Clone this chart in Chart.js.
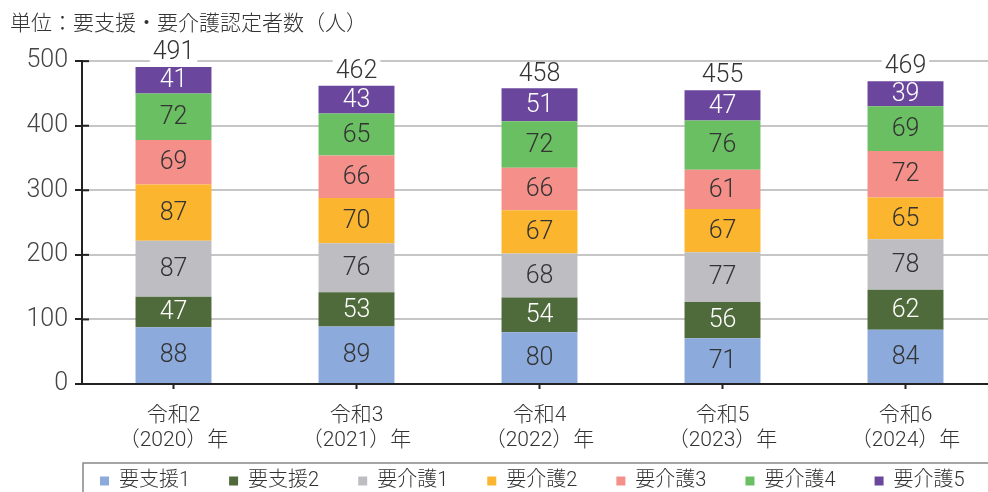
<!DOCTYPE html>
<html>
<head>
<meta charset="utf-8">
<script src="https://cdn.jsdelivr.net/npm/chart.js@4"></script>
<style>
  html, body { margin: 0; padding: 0; background: #fff; overflow: hidden; }
  #wrap { width: 1000px; height: 501px; }
</style>
</head>
<body>
<div id="wrap"><canvas id="chart" width="1000" height="501"></canvas></div>
<script>
// 年度ラベル (2行)
const years = [
  ['令和2', '（2020）年'],
  ['令和3', '（2021）年'],
  ['令和4', '（2022）年'],
  ['令和5', '（2023）年'],
  ['令和6', '（2024）年']
];
const seriesNames = ['要支援1', '要支援2', '要介護1', '要介護2', '要介護3', '要介護4', '要介護5'];

const shien1 = [88, 89, 80, 71, 84];
const shien2 = [47, 53, 54, 56, 62];
const kaigo1 = [87, 76, 68, 77, 78];
const kaigo2 = [87, 70, 67, 67, 65];
const kaigo3 = [69, 66, 66, 61, 72];
const kaigo4 = [72, 65, 72, 76, 69];
const kaigo5 = [41, 43, 51, 47, 39];
const yTicks = [0, 100, 200, 300, 400, 500];

const seriesValues = [shien1, shien2, kaigo1, kaigo2, kaigo3, kaigo4, kaigo5];
const seriesColors = ['#8caadb', '#4f6b3b', '#bebec2', '#fcb52e', '#f48f89', '#6abf63', '#6a479c'];
const whiteText = [1, 6]; // dark segments get white numbers

const totals = years.map((y, i) => seriesValues.reduce((s, arr) => s + arr[i], 0));

const numFont = '300 25px Roboto, "Noto Sans CJK JP"';

const valueLabels = {
  id: 'valueLabels',
  afterDatasetsDraw(chart) {
    const ctx = chart.ctx;
    const yScale = chart.scales.y;
    ctx.save();
    ctx.font = numFont;
    ctx.textAlign = 'center';
    ctx.textBaseline = 'middle';
    chart.data.datasets.forEach((ds, di) => {
      const meta = chart.getDatasetMeta(di);
      meta.data.forEach((bar, i) => {
        ctx.fillStyle = whiteText.includes(di) ? '#fff' : '#333';
        ctx.fillText(ds.data[i], bar.x, (bar.y + bar.base) / 2 + 1);
      });
    });
    // 合計 (白地で目盛線を隠す)
    const meta0 = chart.getDatasetMeta(0);
    totals.forEach((t, i) => {
      const x = meta0.data[i].x;
      const y = yScale.getPixelForValue(t) - 15;
      const w = ctx.measureText(t).width + 6;
      ctx.fillStyle = '#fff';
      ctx.fillRect(x - w / 2, y - 11, w, 22);
      ctx.fillStyle = '#333';
      ctx.fillText(t, x, y + 1);
    });
    ctx.restore();
  }
};

const axisExtras = {
  id: 'axisExtras',
  afterLayout(chart) {
    chart.titleBlock.left += 10;
    chart.titleBlock.right += 10;
    chart.legend.left += 61;
    chart.legend.right += 100;
    // let the 2-line x labels run past the fixed axis box
    chart.scales.x.bottom = chart.height;
  },
  afterDraw(chart) {
    const { ctx, chartArea } = chart;
    const y = chart.scales.y;
    ctx.save();
    ctx.strokeStyle = '#222';
    ctx.lineWidth = 2;
    y.ticks.forEach((t, i) => {
      const py = y.getPixelForTick(i);
      ctx.beginPath();
      ctx.moveTo(chartArea.left, py);
      ctx.lineTo(chartArea.left + 7, py);
      ctx.stroke();
    });
    // 凡例の枠
    const lg = chart.legend;
    ctx.strokeStyle = '#888';
    ctx.lineWidth = 1.5;
    ctx.strokeRect(chartArea.left + 1, lg.top + 31, 1000, 100);
    ctx.restore();
  }
};

const datasets = seriesNames.map((name, i) => ({
  label: name,
  data: seriesValues[i],
  backgroundColor: seriesColors[i],
  borderWidth: 0,
  barPercentage: 0.415,
  categoryPercentage: 1
}));

new Chart(document.getElementById('chart'), {
  type: 'bar',
  data: { labels: years, datasets },
  options: {
    responsive: false,
    animation: false,
    events: [],
    layout: { padding: { left: 0, right: 3, top: 0, bottom: 0 } },
    plugins: {
      title: {
        display: true,
        text: '単位：要支援・要介護認定者数（人）',
        align: 'start',
        color: '#333',
        font: { family: '"Noto Sans CJK JP"', size: 21, weight: '300', lineHeight: 1.15 },
        padding: { top: 10, bottom: 27 }
      },
      legend: {
        position: 'bottom',
        align: 'start',
        labels: {
          boxWidth: 9,
          boxHeight: 9,
          padding: 39,
          color: '#333',
          font: { family: 'Roboto, "Noto Sans CJK JP"', size: 20, weight: '300' }
        }
      },
      tooltip: { enabled: false }
    },
    scales: {
      x: {
        stacked: true,
        afterFit(scale) { scale.height = 48; },
        grid: {
          offset: false,
          drawOnChartArea: false,
          drawTicks: true,
          tickLength: 5,
          tickColor: '#222',
          tickWidth: 2
        },
        border: { color: '#222', width: 2 },
        ticks: {
          color: '#333',
          padding: 14,
          maxRotation: 0,
          autoSkip: false,
          font: { family: 'Roboto, "Noto Sans CJK JP"', size: 21, weight: '300', lineHeight: 1.2 }
        }
      },
      y: {
        stacked: true,
        min: 0,
        max: 500,
        afterFit(scale) { scale.width = 82; },
        afterBuildTicks(scale) { scale.ticks = yTicks.map(v => ({ value: v })); },
        grid: {
          color: '#c6c6c6',
          lineWidth: 2,
          tickLength: 7,
          tickColor: '#222',
          tickWidth: 2
        },
        border: { color: '#222', width: 2 },
        ticks: {
          color: '#444',
          padding: 7,
          font: { family: 'Roboto, "Noto Sans CJK JP"', size: 25, weight: '300' }
        }
      }
    }
  },
  plugins: [valueLabels, axisExtras]
});
</script>
</body>
</html>
